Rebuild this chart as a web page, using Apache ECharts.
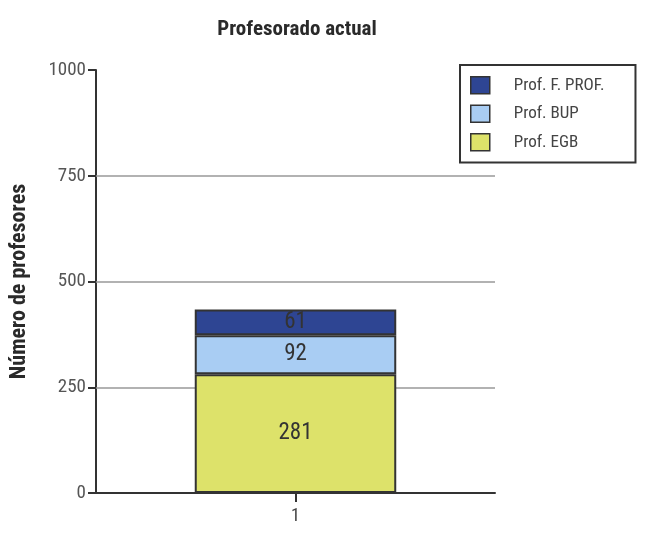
<!DOCTYPE html>
<html><head><meta charset="utf-8">
<script src="https://cdn.jsdelivr.net/npm/echarts@6/dist/echarts.min.js"></script>
<style>html,body{margin:0;padding:0;background:#fff}#c{width:648px;height:538px}</style>
</head><body><div id="c"></div>
<script>
const categories = ['1'];
const seriesNames = ['Prof. EGB', 'Prof. BUP', 'Prof. F. PROF.'];
const egb = [281];
const bup = [92];
const fprof = [61];
const legendOrder = ['Prof. F. PROF.', 'Prof. BUP', 'Prof. EGB'];
const yTicks = [0, 250, 500, 750, 1000];
const gridValues = [250, 500, 750];

const FONT = '"Liberation Sans Narrow", "Roboto Condensed", "Liberation Sans", sans-serif';
const colors = ['#dde26a', '#a9cdf3', '#2e4593'];
const chart = echarts.init(document.getElementById('c'));
const values = [egb, bup, fprof];
const series = seriesNames.map((n, i) => ({
  name: n, type: 'bar', stack: 'total', data: values[i], barWidth: '50.5%', z: 3,
  itemStyle: {color: colors[i], borderColor: '#333', borderWidth: 2},
  label: {show: true, position: 'inside', fontFamily: FONT, fontSize: 23, color: '#333'}
}));
series[0].markLine = {silent: true, symbol: 'none', z: 1, label: {show: false},
  lineStyle: {color: '#999', width: 1.5, type: 'solid'},
  data: gridValues.map(v => ({yAxis: v}))};
chart.setOption({
  animation: false,
  title: {text: 'Profesorado actual', left: 292, textAlign: 'center', top: 14,
    textStyle: {fontFamily: FONT, fontWeight: 'bold', fontSize: 21, color: '#2a2a2a'}},
  legend: {data: legendOrder, orient: 'vertical', left: 460, top: 65,
    padding: [11, 31, 11, 10], itemWidth: 19, itemHeight: 17, itemGap: 10, icon: 'rect',
    borderColor: '#333', borderWidth: 2, borderRadius: 0,
    textStyle: {fontFamily: FONT, fontSize: 17, color: '#444', padding: [0, 0, 0, 19]},
    itemStyle: {borderColor: '#333', borderWidth: 1.5}},
  grid: {left: 95, right: 153, top: 70, bottom: 45},
  xAxis: {type: 'category', data: categories,
    axisLine: {lineStyle: {color: '#333', width: 2}},
    axisTick: {show: true, alignWithLabel: true, length: 9, lineStyle: {color: '#333', width: 2}},
    axisLabel: {fontFamily: FONT, fontSize: 18, color: '#444', margin: 14}},
  yAxis: {type: 'value', min: yTicks[0], max: yTicks[yTicks.length - 1], interval: 250,
    name: 'Número de profesores', nameLocation: 'middle', nameGap: 66, nameRotate: 90,
    nameTextStyle: {fontFamily: FONT, fontWeight: 'bold', fontSize: 22, color: '#2a2a2a'},
    axisLine: {show: true, lineStyle: {color: '#333', width: 2}},
    axisTick: {show: true, length: 8, lineStyle: {color: '#333', width: 2}},
    axisLabel: {fontFamily: FONT, fontSize: 19, color: '#555', margin: 10, formatter: v => String(v)},
    splitLine: {show: false}},
  series: series
});
</script></body></html>
